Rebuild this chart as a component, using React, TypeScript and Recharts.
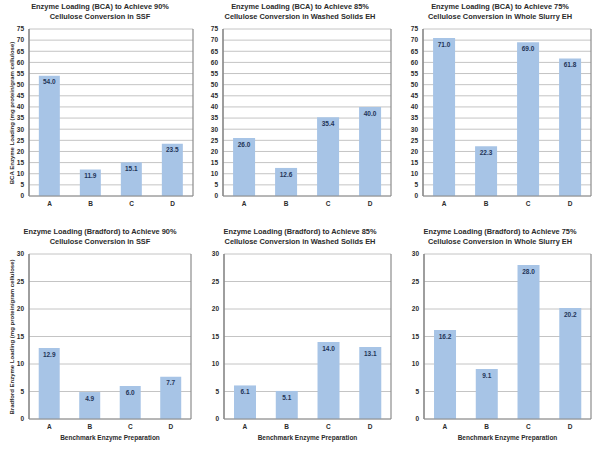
import React from 'react';
import { BarChart, Bar, XAxis, YAxis, CartesianGrid, LabelList } from 'recharts';

const categories = ['A', 'B', 'C', 'D'];
const bcaSSF = [54.0, 11.9, 15.1, 23.5];
const bcaWashed = [26.0, 12.6, 35.4, 40.0];
const bcaSlurry = [71.0, 22.3, 69.0, 61.8];
const bradSSF = [12.9, 4.9, 6.0, 7.7];
const bradWashed = [6.1, 5.1, 14.0, 13.1];
const bradSlurry = [16.2, 9.1, 28.0, 20.2];
const bcaTicks = [0, 5, 10, 15, 20, 25, 30, 35, 40, 45, 50, 55, 60, 65, 70, 75];
const bradTicks = [0, 5, 10, 15, 20, 25, 30];

const titles = [
  ['Enzyme Loading (BCA) to Achieve 90%', 'Cellulose Conversion in SSF'],
  ['Enzyme Loading (BCA) to Achieve 85%', 'Cellulose Conversion in Washed Solids EH'],
  ['Enzyme Loading (BCA) to Achieve 75%', 'Cellulose Conversion in Whole Slurry EH'],
  ['Enzyme Loading (Bradford) to Achieve 90%', 'Cellulose Conversion in SSF'],
  ['Enzyme Loading (Bradford) to Achieve 85%', 'Cellulose Conversion in Washed Solids EH'],
  ['Enzyme Loading (Bradford) to Achieve 75%', 'Cellulose Conversion in Whole Slurry EH'],
];
const bcaYLabel = 'BCA Enzyme Loading (mg protein/gram cellulose)';
const bradYLabel = 'Bradford Enzyme Loading (mg protein/gram cellulose)';
const xTitle = 'Benchmark Enzyme Preparation';

const FONT = '"Liberation Sans", Arial, sans-serif';
const BAR = '#a7c4e6';
const GRID = '#c4c4c4';
const BORDER = '#8c8c8c';
const TEXT = '#2b2b2b';

const build = (vals: number[]) => categories.map((c, i) => ({ cat: c, v: vals[i] }));

type PanelProps = {
  left: number;
  top: number;
  height: number;
  yw: number;
  right: number;
  mtop: number;
  xh: number;
  vals: number[];
  ticks: number[];
  title: string[];
  yLabel?: string;
  xLabel?: string;
  labelX?: number;
};

const edgeGen = (props: any) => {
  const o = props.offset;
  return [o.left, o.left + o.width];
};

function Panel(p: PanelProps) {
  const max = p.ticks[p.ticks.length - 1];
  const plotTop = p.mtop;
  const plotBottom = p.height - p.xh;
  const plotLeft = p.yw;
  const plotRight = 200 - p.right;
  return (
    <div style={{ position: 'absolute', left: p.left, top: p.top, width: 200, height: p.height }}>
      <div
        style={{
          position: 'absolute',
          left: 0,
          top: 2,
          width: 200,
          textAlign: 'center',
          fontFamily: FONT,
          fontWeight: 700,
          fontSize: 7.4,
          lineHeight: '9.6px',
          color: TEXT,
        }}
      >
        <div>{p.title[0]}</div>
        <div>{p.title[1]}</div>
      </div>
      {p.yLabel && (
        <div
          style={{
            position: 'absolute',
            left: (p.labelX ?? 12) - 100,
            top: (plotTop + plotBottom) / 2 - 5,
            width: 200,
            height: 10,
            lineHeight: '10px',
            textAlign: 'center',
            transform: 'rotate(-90deg)',
            fontFamily: FONT,
            fontWeight: 700,
            fontSize: 6,
            color: TEXT,
            whiteSpace: 'nowrap',
          }}
        >
          {p.yLabel}
        </div>
      )}
      {p.xLabel && (
        <div
          style={{
            position: 'absolute',
            left: plotLeft,
            width: plotRight - plotLeft,
            top: plotBottom + 15,
            textAlign: 'center',
            fontFamily: FONT,
            fontWeight: 700,
            fontSize: 6.5,
            lineHeight: '8px',
            color: TEXT,
            whiteSpace: 'nowrap',
          }}
        >
          {p.xLabel}
        </div>
      )}
      <div style={{ position: 'absolute', left: 0, top: 0 }}>
        <BarChart
          width={200}
          height={p.height}
          data={build(p.vals)}
          margin={{ top: p.mtop, right: p.right, bottom: 0, left: 0 }}
          barCategoryGap="24%"
        >
          <CartesianGrid vertical={false} stroke={GRID} strokeWidth={1} />
          <CartesianGrid
            horizontal={false}
            verticalCoordinatesGenerator={edgeGen}
            stroke={BORDER}
            strokeWidth={1.2}
          />
          <XAxis
            dataKey="cat"
            height={p.xh}
            tickLine={false}
            tickSize={2}
            axisLine={{ stroke: BORDER, strokeWidth: 1.2 }}
            tick={{ fontSize: 6.5, fontWeight: 700, fill: TEXT, fontFamily: FONT }}
            tickMargin={3}
            interval={0}
          />
          <YAxis
            width={p.yw}
            domain={[0, max]}
            ticks={p.ticks}
            interval={0}
            tickLine={false}
            tickSize={2}
            axisLine={{ stroke: BORDER, strokeWidth: 1.2 }}
            tick={{ fontSize: 6.5, fontWeight: 700, fill: TEXT, fontFamily: FONT }}
            tickMargin={3}
          />
          <Bar dataKey="v" fill={BAR} isAnimationActive={false}>
            <LabelList
              dataKey="v"
              position="insideTop"
              offset={4}
              formatter={(v: number) => Number(v).toFixed(1)}
              style={{ fontSize: 6.5, fontWeight: 700, fill: '#1f3458', fontFamily: FONT }}
            />
          </Bar>
        </BarChart>
      </div>
    </div>
  );
}

export default function App() {
  return (
    <div style={{ position: 'absolute', left: 0, top: 0, width: 600, height: 451, background: '#fff', overflow: 'hidden' }}>
      <Panel left={0} top={0} height={225} yw={29} right={7} mtop={29} xh={29} vals={bcaSSF} ticks={bcaTicks} title={titles[0]} yLabel={bcaYLabel} labelX={12} />
      <Panel left={200} top={0} height={225} yw={23} right={9} mtop={29} xh={29} vals={bcaWashed} ticks={bcaTicks} title={titles[1]} />
      <Panel left={400} top={0} height={225} yw={23} right={9} mtop={29} xh={29} vals={bcaSlurry} ticks={bcaTicks} title={titles[2]} />
      <Panel left={0} top={225} height={226} yw={29} right={9} mtop={29} xh={32} vals={bradSSF} ticks={bradTicks} title={titles[3]} yLabel={bradYLabel} xLabel={xTitle} labelX={12} />
      <Panel left={200} top={225} height={226} yw={24} right={9} mtop={29} xh={32} vals={bradWashed} ticks={bradTicks} title={titles[4]} xLabel={xTitle} />
      <Panel left={400} top={225} height={226} yw={24} right={9} mtop={29} xh={32} vals={bradSlurry} ticks={bradTicks} title={titles[5]} xLabel={xTitle} />
    </div>
  );
}
